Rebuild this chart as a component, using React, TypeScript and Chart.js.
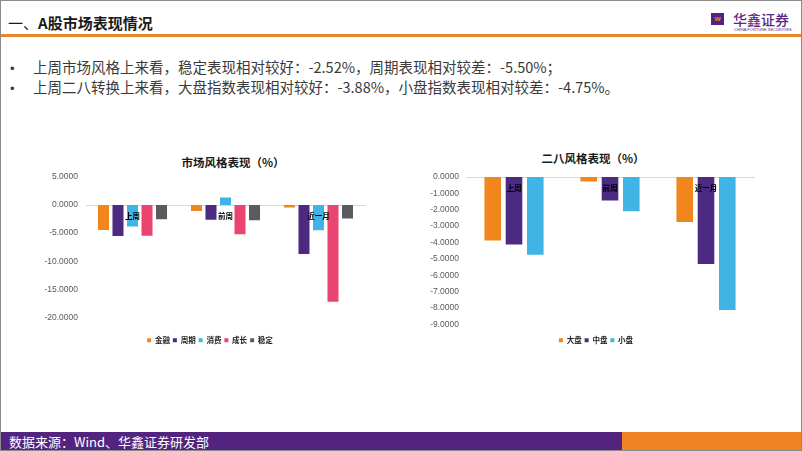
import React, { useEffect, useRef } from 'react';
import { Chart, registerables } from 'chart.js';

Chart.register(...registerables);

// ---- Data ----
const categories = ['上周', '前周', '近一月'];

const styleNames = ['金融', '周期', '消费', '成长', '稳定'];
const financeValues = [-4.45, -1.05, -0.45];
const cyclicalValues = [-5.5, -2.62, -8.72];
const consumptionValues = [-3.8, 1.35, -4.48];
const growthValues = [-5.45, -5.18, -17.25];
const stableValues = [-2.52, -2.7, -2.4];
const styleAxisMin = -20;
const styleAxisMax = 5;
const styleAxisStep = 5;

const sizeNames = ['大盘', '中盘', '小盘'];
const largeCapValues = [-3.88, -0.28, -2.75];
const midCapValues = [-4.13, -1.43, -5.31];
const smallCapValues = [-4.75, -2.1, -8.12];
const sizeAxisMin = -9;
const sizeAxisMax = 0;
const sizeAxisStep = 1;

const ORANGE = '#F0861C';
const PURPLE = '#4D2A82';
const BLUE = '#40B5E5';
const PINK = '#EA4471';
const GRAY = '#5A5B5F';

const FONT = "'Liberation Sans', 'Noto Sans CJK SC', sans-serif";
const NARROW = "'Liberation Sans Narrow', 'Liberation Sans', sans-serif";
const CJK = "'Noto Sans CJK SC', 'Liberation Sans', sans-serif";

type ChartSpec = {
  names: string[];
  series: number[][];
  colors: string[];
  min: number;
  max: number;
  step: number;
  catPct: number;
  barPct: number;
  padLeft: number;
  padRight: number;
  yWidth: number;
  yPad: number;
  rightGap: number;
  legendGap: number;
};

function buildChart(canvas: HTMLCanvasElement, s: ChartSpec) {
  return new Chart(canvas, {
    type: 'bar',
    data: {
      labels: categories,
      datasets: s.series.map((vals, i) => ({
        label: s.names[i],
        data: vals,
        backgroundColor: s.colors[i],
        borderWidth: 0,
        categoryPercentage: s.catPct,
        barPercentage: s.barPct,
      })),
    },
    options: {
      responsive: false,
      animation: false,
      layout: { padding: { left: s.padLeft, right: s.padRight, top: 26, bottom: 0 } },
      plugins: {
        legend: {
          position: 'bottom',
          labels: {
            boxWidth: 4,
            boxHeight: 4,
            padding: 3,
            color: '#222',
            font: { size: 7.5, weight: 'bold', family: CJK },
          },
          title: {
            display: true,
            text: '',
            padding: { top: s.legendGap, bottom: 0 },
            font: { size: 1 },
          },
        },
        tooltip: { enabled: false },
      },
      scales: {
        x: {
          position: { y: 0 } as any,
          grid: { display: false, drawTicks: false },
          border: { display: true, color: '#D9D9D9', width: 1 },
          ticks: {
            z: 1,
            color: '#000',
            padding: 7,
            font: { size: 7.5, weight: 'bold', family: CJK },
          },
        },
        y: {
          min: s.min,
          max: s.max,
          grid: { display: false, drawTicks: false },
          border: { display: false },
          ticks: {
            stepSize: s.step,
            padding: s.yPad,
            color: '#595959',
            font: { size: 8.5, family: NARROW },
            callback: (v: any) => Number(v).toFixed(4),
          },
          afterFit: (scale: any) => {
            scale.width = s.yWidth;
          },
        },
        gapRight: {
          type: 'linear',
          position: 'right',
          display: true,
          grid: { display: false, drawTicks: false },
          border: { display: false },
          ticks: { display: false },
          afterFit: (scale: any) => {
            scale.width = s.rightGap;
          },
        },
      },
    },
  } as any);
}

function BarChart({ spec, left, top, width, height }: { spec: ChartSpec; left: number; top: number; width: number; height: number }) {
  const ref = useRef<HTMLCanvasElement>(null);
  useEffect(() => {
    if (!ref.current) return;
    const c = buildChart(ref.current, spec);
    return () => c.destroy();
  }, []);
  return (
    <canvas
      ref={ref}
      width={width}
      height={height}
      style={{ position: 'absolute', left, top, width, height, display: 'block' }}
    />
  );
}

// left chart canvas: x 36..380 ; chart area 85..364
const styleSpec: ChartSpec = {
  names: styleNames,
  series: [financeValues, cyclicalValues, consumptionValues, growthValues, stableValues],
  colors: [ORANGE, PURPLE, BLUE, PINK, GRAY],
  min: styleAxisMin,
  max: styleAxisMax,
  step: styleAxisStep,
  catPct: 0.78,
  barPct: 0.76,
  padLeft: 4,
  padRight: 2,
  yWidth: 45,
  yPad: 8,
  rightGap: 14,
  legendGap: 15,
};

// right chart canvas: x 418..770 ; chart area 465..753
const sizeSpec: ChartSpec = {
  names: sizeNames,
  series: [largeCapValues, midCapValues, smallCapValues],
  colors: [ORANGE, PURPLE, BLUE],
  min: sizeAxisMin,
  max: sizeAxisMax,
  step: sizeAxisStep,
  catPct: 0.665,
  barPct: 0.78,
  padLeft: 4,
  padRight: 2,
  yWidth: 43,
  yPad: 7,
  rightGap: 15,
  legendGap: 8,
};

const abs = (s: React.CSSProperties): React.CSSProperties => ({ position: 'absolute', ...s });

export default function App() {
  return (
    <div
      style={{
        position: 'fixed',
        left: 0,
        top: 0,
        width: 802,
        height: 451,
        background: '#fff',
        border: '1px solid #8c8c8c',
        boxSizing: 'border-box',
        overflow: 'hidden',
        fontFamily: CJK,
      }}
    >
      {/* header */}
      <div style={abs({ left: 7, top: 12, fontSize: 15, lineHeight: '20px', color: '#1a1a1a', whiteSpace: 'nowrap' })}>
        <span>一、</span>
        <span style={{ fontWeight: 'bold' }}>A股市场表现情况</span>
      </div>
      <div style={abs({ left: 0, top: 33, width: 802, height: 2.5, background: '#E8862A' })} />
      {/* logo */}
      <div style={abs({ left: 710, top: 12, width: 13, height: 12, background: '#53247F', color: '#F0861C', fontSize: 8, lineHeight: '12px', textAlign: 'center', fontWeight: 'bold', fontFamily: FONT })}>
        w
      </div>
      <div style={abs({ left: 732, top: 9, fontSize: 14, lineHeight: '18px', color: '#5A2A86', whiteSpace: 'nowrap', fontWeight: 500 })}>
        华鑫证券
      </div>
      <div style={abs({ left: 733, top: 27, fontSize: 4, lineHeight: '4px', color: '#5A2A86', whiteSpace: 'nowrap', fontFamily: FONT })}>
        CHINA FORTUNE SECURITIES
      </div>

      {/* bullets */}
      <div style={abs({ left: 9, top: 57, fontSize: 14.5, lineHeight: '18px', color: '#3a3a3a', whiteSpace: 'nowrap' })}>
        <div>
          <span style={{ display: 'inline-block', width: 23, fontFamily: FONT, fontSize: 13 }}>•</span>
          上周市场风格上来看，稳定表现相对较好：-2.52%，周期表现相对较差：-5.50%；
        </div>
        <div>
          <span style={{ display: 'inline-block', width: 23, fontFamily: FONT, fontSize: 13 }}>•</span>
          上周二八转换上来看，大盘指数表现相对较好：-3.88%，小盘指数表现相对较差：-4.75%。
        </div>
      </div>

      {/* chart titles */}
      <div style={abs({ left: 132, top: 152, width: 200, textAlign: 'center', fontSize: 11.5, lineHeight: '18px', fontWeight: 'bold', color: '#1a1a1a' })}>
        市场风格表现（%）
      </div>
      <div style={abs({ left: 492, top: 148, width: 200, textAlign: 'center', fontSize: 11.5, lineHeight: '18px', fontWeight: 'bold', color: '#1a1a1a' })}>
        二八风格表现（%）
      </div>

      <BarChart spec={styleSpec} left={36} top={150} width={344} height={203} />
      <BarChart spec={sizeSpec} left={418} top={150} width={352} height={203} />

      {/* footer */}
      <div style={abs({ left: 0, top: 431, width: 621, height: 20, background: '#53247F' })} />
      <div style={abs({ left: 621, top: 431, width: 181, height: 20, background: '#EE8426' })} />
      <div style={abs({ left: 8, top: 431, fontSize: 13, lineHeight: '20px', color: '#fff', whiteSpace: 'nowrap' })}>
        数据来源：Wind、华鑫证券研发部
      </div>
    </div>
  );
}
